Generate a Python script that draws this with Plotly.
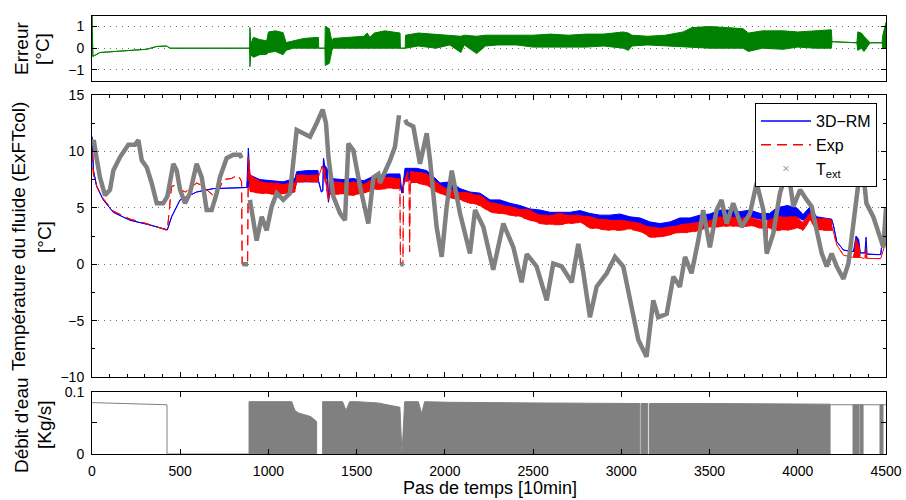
import plotly.graph_objects as go

# ---------------- Données ----------------
# Température du fluide simulée (3D-RM) : enveloppe basse / haute par pas de temps
pas_rm = [0, 8, 27, 64, 121, 215, 310, 427, 451, 499,
          593, 687, 877, 886, 895, 952, 1020, 1083, 1150, 1160,
          1220, 1281, 1285, 1300, 1308, 1312, 1318, 1335, 1340, 1350,
          1420, 1481, 1540, 1595, 1680, 1745, 1757, 1774, 1840, 1897,
          1940, 1972, 2029, 2086, 2142, 2199, 2256, 2312, 2369, 2426,
          2482, 2539, 2596, 2652, 2709, 2766, 2822, 2879, 2936, 2992,
          3049, 3106, 3162, 3219, 3276, 3332, 3389, 3445, 3502, 3559,
          3616, 3672, 3729, 3786, 3840, 3881, 3940, 3994, 4030, 4070,
          4107, 4150, 4192, 4200, 4221, 4259, 4315, 4330, 4345, 4355,
          4380, 4387, 4393, 4440, 4470, 4485, 4500]
rm_bas = [11.3, 8.3, 6.9, 5.7, 4.6, 3.9, 3.55, 3.05, 4.2, 5.7,
          6.4, 6.7, 6.8, 6.8, 7.0, 6.5, 6.4, 6.4, 6.6, 7.3,
          7.3, 7.3, 7.3, 6.4, 6.5, 9.4, 7.6, 7.6, 5.5, 6.7,
          6.6, 6.6, 6.6, 6.9, 7.0, 7.0, 6.3, 7.5, 7.4, 7.3,
          6.8, 6.6, 6.7, 6.3, 6.0, 5.8, 5.4, 5.3, 5.1, 4.9,
          4.6, 4.35, 4.3, 4.15, 4.3, 4.3, 4.05, 3.9, 3.9, 3.9,
          3.7, 3.6, 3.3, 3.2, 3.35, 3.5, 3.6, 3.75, 3.85, 4.05,
          4.2, 4.05, 4.2, 4.0, 3.9, 4.0, 4.0, 4.2, 3.9, 4.3,
          3.8, 3.7, 3.7, 3.6, 2.0, 1.25, 1.1, 1.1, 1.1, 1.0,
          1.0, 1.0, 0.9, 0.85, 0.85, 2.9, 3.4]
rm_haut = [11.3, 8.3, 6.9, 5.7, 4.6, 3.9, 3.55, 3.05, 4.2, 5.7,
           6.4, 6.7, 6.8, 10.3, 7.9, 7.5, 7.4, 7.3, 7.6, 8.2,
           8.3, 8.3, 7.3, 6.4, 6.5, 9.4, 8.8, 8.4, 5.5, 7.6,
           7.5, 7.6, 7.4, 7.8, 8.0, 8.0, 6.3, 8.5, 8.5, 8.3,
           7.7, 7.2, 7.3, 6.7, 6.4, 6.3, 5.7, 5.7, 5.4, 5.2,
           4.9, 4.8, 4.6, 4.6, 4.6, 4.75, 4.5, 4.35, 4.35, 4.45,
           4.2, 4.1, 3.75, 3.6, 3.75, 4.1, 4.1, 4.35, 4.45, 4.8,
           4.8, 4.65, 4.8, 4.5, 4.5, 5.0, 5.2, 5.0, 4.4, 5.1,
           4.2, 4.1, 4.0, 3.6, 2.0, 1.25, 1.1, 2.5, 2.2, 1.0,
           1.0, 2.4, 0.9, 0.85, 0.85, 2.9, 3.4]

# Température du fluide mesurée (Exp)
pas_exp = [0, 8, 27, 64, 121, 215, 310, 427, 451, 475,
           499, 530, 593, 620, 687, 720, 744, 790, 829, 848,
           851, 882, 886, 895, 952, 1020, 1083, 1150, 1160, 1281,
           1285, 1305, 1320, 1340, 1350, 1420, 1481, 1540, 1595, 1680,
           1745, 1748, 1762, 1766, 1790, 1797, 1800, 1804, 1840, 1897,
           1940, 1972, 2029, 2086, 2142, 2199, 2256, 2312, 2369, 2426,
           2482, 2539, 2596, 2652, 2709, 2766, 2822, 2879, 2936, 2992,
           3049, 3106, 3162, 3219, 3276, 3332, 3389, 3445, 3502, 3559,
           3616, 3672, 3729, 3786, 3815, 3822, 3828, 3881, 3940, 3994,
           4030, 4070, 4107, 4150, 4192, 4200, 4221, 4259, 4315, 4330,
           4345, 4355, 4380, 4387, 4393, 4470, 4490, 4500]
exp_bas = [10.0, 8.0, 6.9, 5.8, 4.7, 4.0, 3.6, 3.0, 6.9, 7.0,
           6.6, 6.4, 7.2, 7.0, 6.1, 6.6, 7.5, 7.6, 7.9, 7.3,
           0.0, 0.0, 9.5, 6.4, 6.3, 6.2, 6.2, 6.4, 7.3, 7.3,
           7.8, 8.7, 7.4, 5.7, 6.2, 6.2, 6.1, 6.3, 6.6, 6.7,
           6.7, 0.0, 0.0, 7.3, 7.3, 7.3, 1.1, 7.2, 7.2, 7.0,
           6.5, 6.3, 5.9, 5.7, 5.4, 5.2, 4.6, 4.5, 4.35, 4.2,
           3.9, 3.6, 3.5, 3.5, 3.6, 3.7, 3.2, 3.1, 3.0, 3.0,
           3.1, 2.9, 2.4, 2.4, 2.6, 2.8, 2.8, 3.0, 3.3, 3.3,
           3.4, 3.3, 3.4, 3.2, 3.2, 0.9, 3.2, 3.0, 3.0, 3.2,
           3.0, 3.9, 3.0, 3.0, 3.0, 3.0, 1.7, 0.8, 0.6, 0.6,
           0.6, 0.6, 0.5, 0.5, 0.5, 0.5, 1.5, 2.0]
exp_haut = [10.0, 8.0, 6.9, 5.8, 4.7, 4.0, 3.6, 3.0, 6.9, 7.0,
            6.6, 6.4, 7.2, 7.0, 6.1, 6.6, 7.5, 7.6, 7.9, 7.3,
            0.0, 0.0, 9.5, 8.0, 7.3, 7.2, 7.1, 7.2, 7.9, 7.9,
            7.8, 8.7, 8.4, 5.7, 7.4, 7.2, 7.3, 7.1, 7.6, 7.7,
            7.6, 0.0, 0.0, 7.3, 8.2, 7.3, 1.1, 8.2, 8.2, 8.0,
            7.4, 7.0, 6.6, 6.4, 6.3, 6.1, 5.5, 5.3, 5.1, 4.9,
            4.8, 4.35, 4.35, 4.5, 4.35, 4.35, 4.2, 4.0, 3.9, 3.9,
            3.8, 3.6, 3.3, 3.2, 3.3, 3.5, 3.6, 3.75, 3.9, 4.2,
            4.2, 4.05, 4.2, 3.9, 3.9, 0.9, 3.9, 4.2, 4.2, 4.2,
            3.7, 4.6, 4.0, 4.1, 3.9, 3.0, 1.7, 0.8, 0.6, 2.2,
            1.8, 0.6, 0.5, 1.5, 0.5, 0.5, 1.5, 2.0]

# Température extérieure (None = interruption)
pas_text = [0, 10, 25, 45, 74, 102, 121, 159, 206, 244,
            263, 282, 310, 338, 367, 404, 427, 461, 480, 499,
            527, 555, 593, 622, 650, 678, 707, 725, 763, 801,
            839, 848, None, 852, 884, None, 895, 914, 933, 962,
            990, 1018, 1047, 1084, 1122, 1160, 1198, 1236, 1273, 1307,
            1326, 1340, 1368, 1406, 1434, 1453, 1481, 1519, 1566, 1595,
            1623, 1632, 1689, 1717, 1740, None, 1747, 1766, None, 1775,
            1784, 1821, 1859, 1897, 1916, 1953, 1982, 2010, 2039, 2086,
            2142, 2171, 2218, 2274, 2331, 2388, 2435, 2464, 2520, 2577,
            2614, 2662, 2719, 2756, 2785, 2822, 2860, 2917, 2964, 3011,
            3049, 3096, 3143, 3181, 3209, 3257, 3295, 3332, 3361, 3398,
            3436, 3464, 3502, 3540, 3568, 3597, 3634, 3682, 3729, 3767,
            3805, 3824, 3861, 3899, 3928, 3956, 3975, 4013, 4051, 4079,
            4107, 4136, 4164, 4192, 4221, 4259, 4287, 4315, 4343, 4362,
            4389, 4428, 4466, 4485, 4500]
t_ext = [10.5, 11.0, 9.5, 7.7, 6.1, 6.6, 8.3, 9.5, 10.6, 10.6,
         11.0, 9.2, 8.6, 7.2, 5.4, 5.4, 6.0, 8.9, 8.3, 6.6,
         5.4, 6.3, 8.9, 7.7, 4.8, 4.8, 6.3, 7.7, 9.4, 9.7,
         9.7, 9.4, None, 0.0, 0.0, None, 5.7, 3.9, 2.1, 4.2,
         3.0, 5.1, 6.3, 5.7, 6.3, 11.9, 11.6, 11.3, 12.5, 13.7,
         12.5, 9.5, 6.0, 4.5, 3.9, 10.7, 10.1, 6.9, 3.6, 7.7,
         8.0, 7.2, 9.2, 10.4, 13.2, None, 0.0, 0.0, None, 12.8,
         12.5, 12.2, 8.9, 11.6, 9.2, 3.3, 0.65, 5.1, 8.3, 4.5,
         0.95, 4.8, 3.3, -0.5, 3.6, 1.5, -1.6, 0.9, -0.2, -3.2,
         0.06, -0.2, -1.6, 1.8, -0.8, -4.7, -2.0, -0.8, 0.65, -0.2,
         -3.2, -6.7, -8.2, -3.2, -4.7, -4.4, -1.1, -2.0, 0.65, -0.8,
         2.1, 4.8, 1.5, 4.8, 5.7, 3.6, 5.4, 3.3, 4.5, 7.2,
         4.8, 0.95, 2.7, 6.3, 7.75, 7.2, 5.1, 6.6, 5.7, 5.1,
         3.0, 0.95, -0.2, 0.95, -0.2, -1.3, 0.06, 3.9, 7.75, 9.5,
         5.4, 4.2, 2.4, 1.5, 5.0]

# Erreur (enveloppe basse / haute)
pas_err = [0, 5, 45, 234, 310, 367, 423, 442, 893, 895,
           900, 915, 950, 990, 1000, 1040, 1083, 1100, 1140, 1200,
           1283, 1285, 1320, 1322, 1345, 1360, 1367, 1450, 1540, 1560,
           1575, 1600, 1660, 1746, 1748, 1775, 1777, 1850, 1950, 2028,
           2090, 2110, 2180, 2230, 2300, 2407, 2500, 2600, 2700, 2800,
           2900, 3010, 3040, 3060, 3150, 3250, 3350, 3400, 3500, 3600,
           3690, 3720, 3800, 3917, 4000, 4100, 4190, 4194, 4335, 4340,
           4360, 4375, 4410, 4478, 4482, 4500]
err_bas = [1.5, -0.38, -0.2, -0.08, -0.05, 0.08, 0.1, 0.0, 0.0, -0.85,
           -0.3, -0.42, -0.3, -0.28, -0.2, -0.15, -0.3, -0.1, 0.0, 0.0,
           0.0, 0.0, 0.0, -0.8, -0.7, -0.1, 0.0, 0.0, 0.0, 0.0,
           0.0, 0.0, 0.0, 0.0, 0.0, 0.0, 0.0, 0.1, 0.0, 0.15,
           -0.2, 0.15, -0.25, 0.1, 0.15, 0.15, 0.05, 0.05, 0.05, 0.05,
           0.1, 0.0, -0.1, 0.1, 0.15, 0.1, 0.05, 0.05, 0.0, 0.0,
           0.0, -0.15, 0.0, -0.05, 0.05, 0.0, 0.0, 0.3, 0.25, -0.1,
           0.0, -0.15, 0.25, 0.25, 0.0, 0.0]
err_haut = [1.5, -0.38, -0.2, -0.08, -0.05, 0.08, 0.1, 0.0, 0.0, 0.95,
            0.2, 0.5, 0.4, 0.34, 0.75, 0.8, 0.72, 0.26, 0.35, 0.45,
            0.5, 0.0, 0.0, 1.0, 0.9, 0.3, 0.45, 0.5, 0.55, 0.7,
            0.5, 0.7, 0.8, 0.7, 0.0, 0.0, 0.6, 0.7, 0.65, 0.6,
            0.55, 0.6, 0.55, 0.6, 0.6, 0.6, 0.6, 0.65, 0.6, 0.65,
            0.65, 0.75, 0.7, 0.6, 0.55, 0.6, 0.75, 0.95, 1.0, 0.95,
            0.9, 0.7, 0.8, 0.8, 0.75, 0.8, 0.85, 0.3, 0.25, 0.75,
            0.7, 0.55, 0.25, 0.25, 0.6, 1.2]

# Débit d'eau : parties à débit constant
pas_debit_const = [0, 425, 425, 890, None, 4183, 4500]
debit_const = [0.0825, 0.079, 0.0, 0.0, None, 0.079, 0.079]
# Débit d'eau : enveloppe haute des périodes de marche/arrêt (None = fin de période)
pas_debit = [890, 1132, 1150, 1170, 1200, 1240, 1273, None,
             1307, 1420, 1440, 1460, 1500, 1620, 1700, 1745, 1757, 1772,
             1850, 1868, 1885, 2028, 2500, 3000, 3105, None,
             3112, 3150, None,
             3160, 3500, 4000, 4183, None,
             4313, 4347, None,
             4353, 4370, None,
             4466, 4483]
debit_haut = [0.084, 0.084, 0.07, 0.066, 0.063, 0.06, 0.052, None,
              0.084, 0.084, 0.07, 0.084, 0.084, 0.082, 0.078, 0.075, 0.0, 0.084,
              0.084, 0.065, 0.084, 0.083, 0.082, 0.082, 0.081, None,
              0.081, 0.081, None,
              0.081, 0.081, 0.081, 0.08, None,
              0.079, 0.079, None,
              0.079, 0.079, None,
              0.079, 0.079]

x_ticks = [0, 500, 1000, 1500, 2000, 2500, 3000, 3500, 4000, 4500]

BLEU = "#0000ff"
ROUGE = "#ff0000"
GRIS = "#808080"
VERT = "#008000"
FONT = "Liberation Sans, Arial, Helvetica, sans-serif"

fig = go.Figure()


def bande(x, bas, haut, couleur, xa, ya, dash="solid", width=1.0):
    """Courbe oscillante représentée par son enveloppe basse/haute remplie."""
    fig.add_trace(go.Scatter(x=x, y=bas, mode="lines", xaxis=xa, yaxis=ya,
                             line=dict(color=couleur, width=width, dash=dash),
                             showlegend=False, hoverinfo="skip"))
    fig.add_trace(go.Scatter(x=x, y=haut, mode="lines", xaxis=xa, yaxis=ya,
                             line=dict(color=couleur, width=width, dash=dash),
                             fill="tonexty", fillcolor=couleur,
                             showlegend=False, hoverinfo="skip"))


# --- Erreur ---
bande(pas_err, err_bas, err_haut, VERT, "x", "y")

# --- Températures ---
bande(pas_rm, rm_bas, rm_haut, BLEU, "x2", "y2")
bande(pas_exp, exp_bas, exp_haut, ROUGE, "x2", "y2", dash="10px,6px")
fig.add_trace(go.Scatter(x=pas_text, y=t_ext, mode="lines",
                         xaxis="x2", yaxis="y2",
                         line=dict(color=GRIS, width=4.5),
                         connectgaps=False, showlegend=False, hoverinfo="skip"))

# entrées de légende
fig.add_trace(go.Scatter(x=[None], y=[None], mode="lines", name="3D\u2212RM",
                         xaxis="x2", yaxis="y2", line=dict(color=BLEU, width=1.5)))
fig.add_trace(go.Scatter(x=[None], y=[None], mode="lines", name="Exp",
                         xaxis="x2", yaxis="y2",
                         line=dict(color=ROUGE, width=1.5, dash="10px,6px")))
fig.add_trace(go.Scatter(x=[None], y=[None], mode="markers", name="T<sub>ext</sub>",
                         xaxis="x2", yaxis="y2",
                         marker=dict(symbol="x-thin", size=5, color=GRIS,
                                     line=dict(color=GRIS, width=1))))

# --- Débit ---
# chaque période de marche est fermée sur l'axe zéro
seg_x, seg_y, cx, cy = [], [], [], []
for xv, yv in zip(pas_debit + [None], debit_haut + [None]):
    if xv is None:
        if cx:
            seg_x += [cx[0]] + cx + [cx[-1], None]
            seg_y += [0.0] + cy + [0.0, None]
        cx, cy = [], []
    else:
        cx.append(xv)
        cy.append(yv)
fig.add_trace(go.Scatter(x=seg_x, y=seg_y, mode="lines", xaxis="x3", yaxis="y3",
                         line=dict(color=GRIS, width=1), fill="tozeroy",
                         fillcolor=GRIS, connectgaps=False,
                         showlegend=False, hoverinfo="skip"))
fig.add_trace(go.Scatter(x=pas_debit_const, y=debit_const, mode="lines",
                         xaxis="x3", yaxis="y3", line=dict(color=GRIS, width=1),
                         connectgaps=False, showlegend=False, hoverinfo="skip"))

axe = dict(showline=True, linecolor="black", linewidth=1, mirror="ticks",
           zeroline=False, tickcolor="black", tickfont=dict(size=14, color="black"),
           ticklabelstandoff=4)
grille = dict(showgrid=True, gridcolor="#707070", gridwidth=1, griddash="1px,5px")

fig.update_layout(
    width=906, height=500,
    margin=dict(l=92, r=20, t=0, b=0, pad=0, autoexpand=False),
    paper_bgcolor="white", plot_bgcolor="white",
    font=dict(family=FONT, color="black", size=14),
    showlegend=True,
    legend=dict(x=0.835, y=0.794, xanchor="left", yanchor="top",
                traceorder="normal",
                bgcolor="white", bordercolor="black", borderwidth=1,
                font=dict(size=16, family=FONT), tracegroupgap=0,
                itemwidth=50),
    xaxis=dict(domain=[0, 1], anchor="y", range=[0, 4500], showticklabels=False,
               ticks="", showgrid=False, **{k: v for k, v in axe.items()
                                             if k not in ("tickfont",)}),
    yaxis=dict(domain=[0.8386, 0.9686], anchor="x", range=[-1.5, 1.5],
               tickvals=[-1, 0, 1], ticks="inside", ticklen=5, **axe, **grille),
    xaxis2=dict(domain=[0, 1], anchor="y2", range=[0, 4500], tickvals=x_ticks,
                ticks="inside", ticklen=5, showticklabels=False, showgrid=False,
                minor=dict(ticks="inside", dtick=100, tick0=0, ticklen=3,
                           tickcolor="black", showgrid=False),
                matches="x3", **axe),
    yaxis2=dict(domain=[0.246, 0.81], anchor="x2", range=[-10, 15],
                tickvals=[-10, -5, 0, 5, 10, 15], ticks="inside", ticklen=5,
                minor=dict(ticks="inside", dtick=2.5, tick0=0, ticklen=3,
                           tickcolor="black", showgrid=False),
                **axe, **grille),
    xaxis3=dict(domain=[0, 1], anchor="y3", range=[0, 4500], tickvals=x_ticks,
                ticks="inside", ticklen=5, showgrid=False, **axe),
    yaxis3=dict(domain=[0.092, 0.2166], anchor="x3", range=[0, 0.1],
                tickvals=[0, 0.05, 0.1], ticktext=["0", "", "0.1"],
                ticks="inside", ticklen=5, showgrid=False, **axe),
)

TITRE = dict(size=19, family=FONT, color="black")


def titre_y(texte, px, py):
    fig.add_annotation(text=texte, xref="paper", yref="paper",
                       x=(px - 92) / 794, y=1 - py / 500, showarrow=False,
                       textangle=-90, xanchor="center", yanchor="middle",
                       font=TITRE)


titre_y("Erreur", 22, 49)
titre_y("[°C]", 43, 49)
titre_y("Température du fluide (ExFTcol)", 18, 237)
titre_y("[°C]", 44, 237)
titre_y("Débit d'eau", 21, 425)
titre_y("[Kg/s]", 44, 425)

fig.add_annotation(text="Pas de temps [10min]", xref="paper", yref="paper",
                   x=(490 - 92) / 794, y=1 - 488 / 500, showarrow=False,
                   xanchor="center", yanchor="middle",
                   font=dict(size=18, family=FONT, color="black"))

fig.write_html("out.html")
